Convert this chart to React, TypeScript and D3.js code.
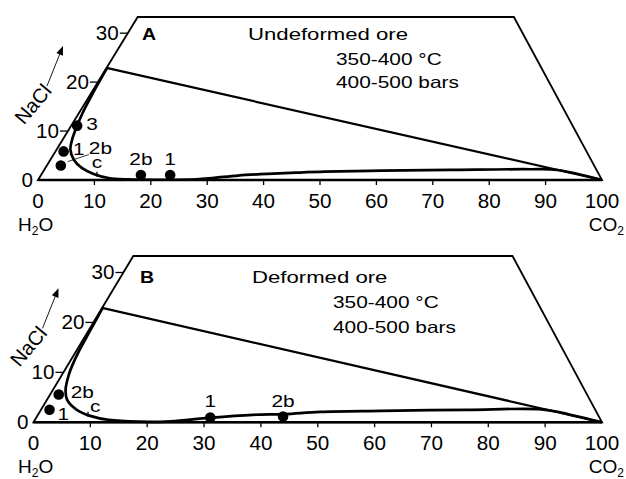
import React from "react";
import * as d3 from "d3";

// axis ticks (wt% CO2 along the base, wt% NaCl up the left side)
const CO2_TICKS = [0, 10, 20, 30, 40, 50, 60, 70, 80, 90, 100];
const NACL_TICKS = [0, 10, 20, 30];
const NACL_MAX = 33.3; // diagram is cut off here

const PANEL_LETTERS = ["A", "B"];
const PANEL_TITLES = ["Undeformed ore", "Deformed ore"];
const CONDITIONS = ["350-400 °C", "400-500 bars"];

// halite-saturated end of the tie line on the H2O-NaCl side
const HALITE_SAT = [22.9, 22.9];

// solvus curves as [CO2, NaCl]
const SOLVUS_A = [
  [0.1, 22.9], [0.3, 18], [0.6, 14], [1.05, 11.1], [1.67, 8.25], [2.45, 6.2],
  [4.2, 4.1], [6.45, 2.47], [9.2, 1.24], [12.3, 0.4], [16, 0.12], [22, 0.05],
  [28, 0.15], [31, 0.45], [35, 0.9], [40, 1.25], [45, 1.5], [50, 1.7],
  [60, 1.9], [72, 2.05], [86, 2.2], [91, 2.05], [100, 0],
];
const SOLVUS_B = [
  [0.1, 22.9], [0.3, 18], [0.5, 14], [0.8, 11.5], [1.16, 9.65], [2.17, 6.6],
  [3.5, 4.55], [6.3, 2.5], [9.3, 1.29], [13, 0.47], [18.5, 0.12], [24, 0.2],
  [30.4, 0.9], [37.8, 1.5], [43.3, 1.65], [49.3, 2.1], [60, 2.3], [75, 2.5],
  [88, 2.6], [92, 1.9], [100, 0],
];

// fluid inclusion compositions
const INCL_A_LABELS = ["3", "1", "2b", "2b", "1"];
const INCL_A_CO2 = [1.05, 1.44, 2.48, 17.7, 22.9];
const INCL_A_NACL = [11.1, 5.84, 2.95, 1.03, 1.0];
const INCL_B_LABELS = ["2b", "1", "1", "2b"];
const INCL_B_CO2 = [1.5, 1.5, 30.6, 43.3];
const INCL_B_NACL = [5.57, 2.5, 0.94, 1.14];

// critical points "c"
const CRIT_A = [9.9, 1.05];
const CRIT_B = [8.8, 1.5];

// layout
const FONT = "'Liberation Sans', Arial, Helvetica, sans-serif";
const GEOM = [
  { x0: 38, x1: 602, yBase: 180, yTop: 17, topLeftX: 137.7 },
  { x0: 33.5, x1: 602, yBase: 422.3, yTop: 256, topLeftX: 133.3 },
];
const LABEL_POS = [
  [[9, 4, "start"], [9.5, 3.5, "start"], [28, -11.5, "start"], [0, -10, "middle"], [0, -10, "middle"]],
  [[12, 3.5, "start"], [8, 10, "start"], [0, -11, "middle"], [0, -10, "middle"]],
];
const LEADER = [2, -1]; // which label gets a thin leader line
const CRIT_LABEL_POS = [[0, -6.5, "middle"], [2, -2.5, "start"]];
const TEXT_Y = [
  { title: 39.5, l1: 65, l2: 88 },
  { title: 282.7, l1: 308.3, l2: 333.3 },
];
const TEXT_X = [
  { letter: 142, title: 248, cond: 336 },
  { letter: 140, title: 252, cond: 333 },
];

const Txt = ({ x, y, children, anchor = "start", size = 16.3, sx = 1.28, weight = "normal" }: any) => (
  <text
    transform={`translate(${x},${y}) scale(${sx},1)`}
    textAnchor={anchor}
    fontSize={size}
    fontWeight={weight}
    fill="#000"
  >
    {children}
  </text>
);

const Panel = ({ idx }: { idx: number }) => {
  const g = GEOM[idx];
  const x = d3.scaleLinear().domain([0, 100]).range([g.x0, g.x1]);
  const y = d3.scaleLinear().domain([0, NACL_MAX]).range([g.yBase, g.yTop]);
  const skew = (g.topLeftX - g.x0) / (g.yBase - g.yTop);
  const proj = (c: number, n: number): [number, number] => [x(c) + (g.yBase - y(n)) * skew, y(n)];

  const outline = [proj(0, 0), proj(0, NACL_MAX), proj(100 - NACL_MAX, NACL_MAX), proj(100, 0)];
  const line = d3.line<number[]>().curve(d3.curveCatmullRom.alpha(0.5));
  const solvus = (idx === 0 ? SOLVUS_A : SOLVUS_B).map(([c, n]) => proj(c, n));
  const labels = idx === 0 ? INCL_A_LABELS : INCL_B_LABELS;
  const co2 = idx === 0 ? INCL_A_CO2 : INCL_B_CO2;
  const nacl = idx === 0 ? INCL_A_NACL : INCL_B_NACL;
  const crit = idx === 0 ? CRIT_A : CRIT_B;
  const [cx, cy] = proj(crit[0], crit[1]);
  const tie = [proj(0, HALITE_SAT[idx]), proj(100, 0)];

  // NaCl arrow
  const a0 = [g.x0 + 9, g.yBase - 94];
  const a1 = [g.x0 + 25, g.yBase - 134];
  const len = Math.hypot(a1[0] - a0[0], a1[1] - a0[1]);
  const ux = (a1[0] - a0[0]) / len, uy = (a1[1] - a0[1]) / len;
  const head = `M${a1[0]},${a1[1]} L${a1[0] - ux * 9 - uy * 3.5},${a1[1] - uy * 9 + ux * 3.5} L${a1[0] - ux * 9 + uy * 3.5},${a1[1] - uy * 9 - ux * 3.5}Z`;

  return (
    <g>
      {/* diagram outline */}
      <path d={`M${outline.map((p) => p.join(",")).join("L")}Z`} fill="none" stroke="#000" strokeWidth={1.8} strokeLinejoin="miter" />
      <line x1={x(0)} x2={x(100)} y1={y(0)} y2={y(0)} stroke="#000" strokeWidth={2.6} />

      {/* x ticks */}
      {CO2_TICKS.map((t) => (
        <g key={"xt" + t}>
          {t > 0 && t < 100 && <line x1={x(t)} x2={x(t)} y1={y(0)} y2={y(0) + 5} stroke="#000" strokeWidth={1.3} />}
          <Txt x={x(t)} y={y(0) + 27.5} anchor="middle" size={19.5} sx={1.06}>{t}</Txt>
        </g>
      ))}

      {/* NaCl ticks on slanted side */}
      {NACL_TICKS.map((t) => {
        const [px, py] = proj(0, t);
        return (
          <g key={"yt" + t}>
            {t > 0 && <line x1={px - 8} x2={px} y1={py} y2={py} stroke="#000" strokeWidth={1.3} />}
            <Txt x={px - (t === 0 ? 5 : 9)} y={py + 7} anchor="end" size={19.5} sx={1.06}>{t}</Txt>
          </g>
        );
      })}

      {/* tie line and solvus */}
      <line x1={tie[0][0]} y1={tie[0][1]} x2={tie[1][0]} y2={tie[1][1]} stroke="#000" strokeWidth={2.2} />
      <path d={line(solvus) || ""} fill="none" stroke="#000" strokeWidth={2.7} />

      {/* critical point */}
      <line x1={cx} x2={cx} y1={cy - 3} y2={cy + 2} stroke="#000" strokeWidth={1.3} />
      <Txt x={cx + (CRIT_LABEL_POS[idx][0] as number)} y={cy + (CRIT_LABEL_POS[idx][1] as number)} anchor={CRIT_LABEL_POS[idx][2]}>c</Txt>

      {/* inclusions */}
      {labels.map((lab, i) => {
        const [px, py] = proj(co2[i], nacl[i]);
        const [dx, dy, anc] = LABEL_POS[idx][i] as [number, number, string];
        return (
          <g key={"d" + i}>
            <circle cx={px} cy={py} r={5.3} fill="#000" />
            {LEADER[idx] === i && (
              <line x1={px + 7} y1={py - 4} x2={px + dx} y2={py + dy + 0.5} stroke="#000" strokeWidth={0.8} />
            )}
            <Txt x={px + dx} y={py + dy} anchor={anc}>{lab}</Txt>
          </g>
        );
      })}

      {/* panel texts */}
      <Txt x={TEXT_X[idx].letter} y={TEXT_Y[idx].title} weight="bold" sx={1.2}>{PANEL_LETTERS[idx]}</Txt>
      <Txt x={TEXT_X[idx].title} y={TEXT_Y[idx].title} sx={1.36}>{PANEL_TITLES[idx]}</Txt>
      <Txt x={TEXT_X[idx].cond} y={TEXT_Y[idx].l1}>{CONDITIONS[0]}</Txt>
      <Txt x={TEXT_X[idx].cond} y={TEXT_Y[idx].l2}>{CONDITIONS[1]}</Txt>

      {/* component labels */}
      <text x={18} y={g.yBase + 50.5} fontSize={19} fill="#000">
        H<tspan dy={4} fontSize={12}>2</tspan><tspan dy={-4}>O</tspan>
      </text>
      <text x={624} y={g.yBase + 50.5} fontSize={19} textAnchor="end" fill="#000">
        CO<tspan dy={4} fontSize={12}>2</tspan>
      </text>

      {/* NaCl axis label with arrow */}
      <text transform={`translate(${g.x0 - 5},${g.yBase - 76}) rotate(-50)`} textAnchor="middle" dominantBaseline="central" fontSize={20} fill="#000">
        NaCl
      </text>
      <line x1={a0[0]} y1={a0[1]} x2={a1[0] - ux * 6} y2={a1[1] - uy * 6} stroke="#000" strokeWidth={0.9} />
      <path d={head} fill="#000" />
    </g>
  );
};

const App = () => (
  <svg
    width={626}
    height={479}
    style={{ position: "absolute", left: 0, top: 0, background: "#fff" }}
    fontFamily={FONT}
  >
    {PANEL_LETTERS.map((_, i) => (
      <Panel key={i} idx={i} />
    ))}
  </svg>
);

export default App;
